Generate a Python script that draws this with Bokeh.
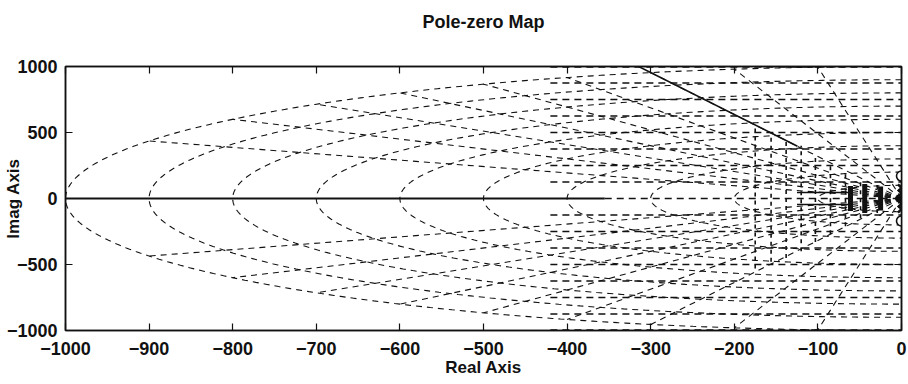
import numpy as np
from bokeh.plotting import figure
from bokeh.models import Range1d, LinearAxis, FixedTicker, CustomLabelingPolicy
from bokeh.embed import file_html
from bokeh.resources import INLINE

# ---- sgrid values ----
zeta_values = [0.1, 0.2, 0.3, 0.4, 0.5, 0.6, 0.7, 0.8, 0.9]
wn_values = [100, 200, 300, 400, 500, 600, 700, 800, 900, 1000]
wn_max = 1000

# ---- locus / map features ----
solid_axis_x = [-1000, -355]
dashed_axis_x = [-355, 0]
branch_zeta = 0.3
branch_r = [415, 1060]
horiz_levels = [125, 250, 375, 500, 625, 750, 875, 995]
horiz_x_start = -420
vert_x = [-175, -156, -138, -120, -103, -85, -67, -49, -29]
vert_half = [530, 480, 450, 400, 330, 270, 210, 150, 110]
blob_x = [-61, -44, -25]
blob_half = [95, 110, 90]
short_y = [45, -45]
short_x = [-125, -60]
zero_x = [0, 0]
zero_y = [170, -170]
pole_x = [0, 0, 0, 0, 0]
pole_y = [-80, -40, 0, 40, 80]

x_ticks = list(range(-1000, 1, 100))
y_ticks = [-1000, -500, 0, 500, 1000]

FONT = "Liberation Sans"
INK = "#111111"
DASH = "6 5"

p = figure(frame_width=836, frame_height=264, output_backend="svg", toolbar_location=None,
           x_range=Range1d(-1000, 0), y_range=Range1d(-1000, 1000),
           min_border_left=58, min_border_right=4, min_border_top=66, min_border_bottom=40)
p.xgrid.visible = False
p.ygrid.visible = False
p.outline_line_color = INK
p.outline_line_width = 1.5
p.background_fill_color = "white"
p.border_fill_color = "white"

# title
p.title.text = "Pole-zero Map"
p.title.align = "center"
p.title.text_font = FONT
p.title.text_font_style = "bold"
p.title.text_font_size = "18px"
p.title.text_color = INK

# wn circles
cx, cy = [], []
for wn in wn_values:
    th = np.linspace(np.pi / 2, 3 * np.pi / 2, 300)
    cx.append(wn * np.cos(th))
    cy.append(wn * np.sin(th))
p.multi_line(cx, cy, line_color=INK, line_width=1.1, line_dash=DASH)

# zeta lines
zx, zy = [], []
for z in zeta_values:
    s = np.sqrt(1 - z * z)
    zx += [[0, -wn_max * z], [0, -wn_max * z]]
    zy += [[0, wn_max * s], [0, -wn_max * s]]
p.multi_line(zx, zy, line_color=INK, line_width=1.1, line_dash=DASH)

# horizontal branches
hx, hy = [], []
for lv in horiz_levels:
    hx += [[horiz_x_start, 0], [horiz_x_start, 0]]
    hy += [[lv, lv], [-lv, -lv]]
p.multi_line(hx, hy, line_color=INK, line_width=1.3, line_dash="7 5")

# vertical clusters near origin
vx, vy = [], []
for x, h in zip(vert_x, vert_half):
    vx.append([x, x])
    vy.append([-h, h])
p.multi_line(vx, vy, line_color=INK, line_width=1.6, line_dash="4 4")

# dense blobs
bx, by = [], []
for x, h in zip(blob_x, blob_half):
    bx.append([x, x])
    by.append([-h, h])
p.multi_line(bx, by, line_color=INK, line_width=5)

# short horizontal branches
p.multi_line([short_x, short_x], [[y, y] for y in short_y], line_color=INK, line_width=1.5)

# real axis
p.line(solid_axis_x, [0, 0], line_color=INK, line_width=1.8)
p.line(dashed_axis_x, [0, 0], line_color=INK, line_width=1.4, line_dash="7 5")

# solid branch along zeta = 0.3
s3 = np.sqrt(1 - branch_zeta ** 2)
p.line([-r * branch_zeta for r in branch_r], [r * s3 for r in branch_r], line_color=INK, line_width=1.6)

# poles and zeros
p.scatter(pole_x, pole_y, marker="x", size=10, line_color=INK, line_width=2.5)
p.scatter(zero_x, zero_y, marker="circle", size=10, line_color=INK, fill_color="white", line_width=1.6)

# axes
no_labels = CustomLabelingPolicy(code="""
    const all = [...indices]
    for (const i of all) indices.unset(i)
    return indices
""")

def style_axis(ax, labels=True):
    ax.axis_line_color = INK
    ax.axis_line_width = 1.5
    ax.major_tick_line_color = INK
    ax.major_tick_line_width = 1.2
    ax.major_tick_in = 7
    ax.major_tick_out = 0
    ax.minor_tick_line_color = None
    if labels:
        ax.major_label_text_font = FONT
        ax.major_label_text_font_style = "bold"
        ax.major_label_text_font_size = "18px"
        ax.major_label_text_color = INK
        ax.axis_label_text_font = FONT
        ax.axis_label_text_font_style = "bold"
        ax.axis_label_text_font_size = "17px"
        ax.axis_label_text_color = INK
    else:
        ax.major_label_policy = no_labels
        ax.major_label_standoff = 0

p.xaxis.ticker = FixedTicker(ticks=x_ticks)
p.yaxis.ticker = FixedTicker(ticks=y_ticks)
p.xaxis.axis_label = "Real Axis"
p.yaxis.axis_label = "Imag Axis"
style_axis(p.xaxis[0])
style_axis(p.yaxis[0])
p.xaxis.major_label_standoff = 11
p.xaxis.axis_label_standoff = 0
p.yaxis.major_label_standoff = 8
p.yaxis.axis_label_standoff = -19

top = LinearAxis(ticker=FixedTicker(ticks=x_ticks))
right = LinearAxis(ticker=FixedTicker(ticks=y_ticks))
style_axis(top, labels=False)
style_axis(right, labels=False)
p.add_layout(top, "above")
p.add_layout(right, "right")

# invisible spacer axis that lifts the title away from the frame
spacer = LinearAxis(ticker=FixedTicker(ticks=x_ticks))
spacer.axis_line_color = None
spacer.major_tick_line_color = None
spacer.minor_tick_line_color = None
spacer.major_tick_in = 0
spacer.major_tick_out = 8
spacer.major_label_policy = no_labels
spacer.major_label_standoff = 0
p.add_layout(spacer, "above")

open("out.html", "w").write(file_html(p, INLINE))
